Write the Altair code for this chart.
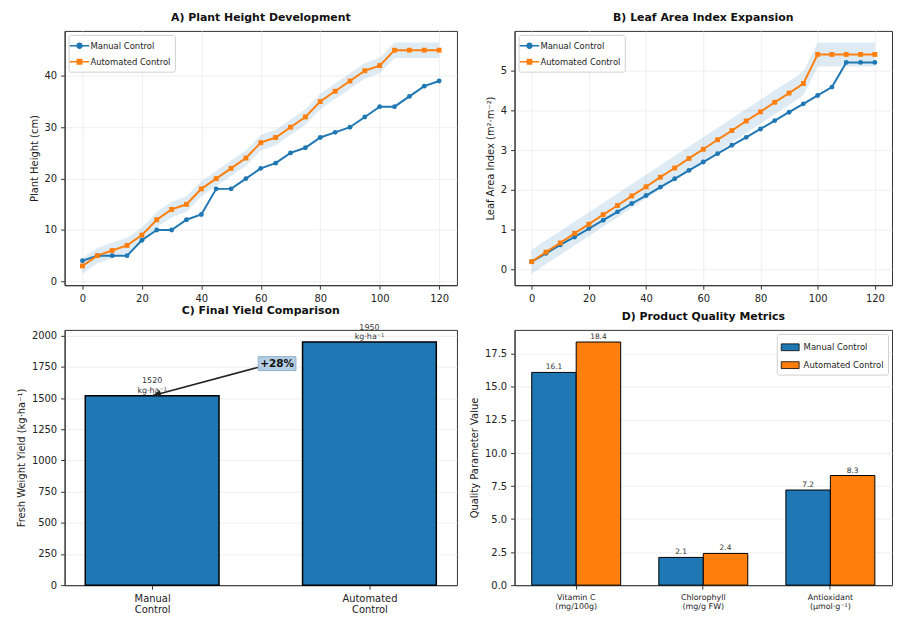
import altair as alt
import pandas as pd

# ---------------- data ----------------
SERIES = ["Manual Control", "Automated Control"]
COLORS = ["#1f77b4", "#ff7f0e"]

days = [0, 5, 10, 15, 20, 25, 30, 35, 40, 45, 50, 55, 60, 65, 70, 75, 80, 85, 90, 95, 100, 105, 110, 115, 120]
height_manual = [4, 5, 5, 5, 8, 10, 10, 12, 13, 18, 18, 20, 22, 23, 25, 26, 28, 29, 30, 32, 34, 34, 36, 38, 39]
height_auto = [3, 5, 6, 7, 9, 12, 14, 15, 18, 20, 22, 24, 27, 28, 30, 32, 35, 37, 39, 41, 42, 45, 45, 45, 45]
height_spread = 1.5

lai_manual = [0.20, 0.41, 0.62, 0.82, 1.03, 1.24, 1.45, 1.66, 1.86, 2.07, 2.28, 2.49, 2.70,
              2.91, 3.12, 3.32, 3.53, 3.74, 3.95, 4.16, 4.37, 4.58, 5.20, 5.20, 5.20]
lai_auto = [0.20, 0.44, 0.67, 0.91, 1.14, 1.38, 1.61, 1.85, 2.08, 2.32, 2.55, 2.79, 3.02,
            3.26, 3.49, 3.73, 3.96, 4.20, 4.43, 4.67, 5.40, 5.40, 5.40, 5.40, 5.40]
lai_spread = 0.3

yield_groups = ["Manual Control", "Automated Control"]
yield_values = [1520, 1950]
yield_unit = "kg·ha⁻¹"
yield_gain = "+28%"

quality_metrics = ["Vitamin C\n(mg/100g)", "Chlorophyll\n(mg/g FW)", "Antioxidant\n(μmol·g⁻¹)"]
quality_manual = [16.1, 2.1, 7.2]
quality_auto = [18.4, 2.4, 8.3]

# ---------------- layout / style ----------------
FONT = "DejaVu Sans"
W_LEFT, W_RIGHT, H = 395, 380, 256
color_scale = alt.Scale(domain=SERIES, range=COLORS)

line_shape_expr = (
    "datum.value == '" + SERIES[0] + "' ? "
    "'M-1.6,0H1.6M-0.4,0A0.4,0.4,0,1,0,0.4,0A0.4,0.4,0,1,0,-0.4,0Z' : "
    "'M-1.6,0H1.6M-0.35,-0.35H0.35V0.35H-0.35Z'"
)
line_color_expr = "datum.value == '" + SERIES[0] + "' ? '" + COLORS[0] + "' : '" + COLORS[1] + "'"


def line_legend():
    return alt.Legend(
        title=None, orient="top-left", offset=4, labelFontSize=8.5, labelFont=FONT,
        labelColor="#222", fillColor="white", strokeColor="#d0d0d0", padding=4,
        cornerRadius=2, rowPadding=3, symbolSize=150,
        symbolType={"expr": line_shape_expr},
        symbolFillColor={"expr": line_color_expr},
        symbolStrokeColor={"expr": line_color_expr},
        symbolStrokeWidth=1.6, symbolOpacity=1,
    )


def growth_panel(manual, auto, spread, ydomain, yvalues, ytitle, title, width):
    long = pd.DataFrame(
        [{"day": d, "series": SERIES[0], "value": m} for d, m in zip(days, manual)]
        + [{"day": d, "series": SERIES[1], "value": a} for d, a in zip(days, auto)]
    )
    band = pd.DataFrame({"day": days, "value": [a - spread for a in auto], "hi": [a + spread for a in auto]})
    x = alt.X("day:Q", scale=alt.Scale(domain=[-6, 126], nice=False, zero=False),
              axis=alt.Axis(values=list(range(0, 121, 20)), title=None))
    y = alt.Y("value:Q", scale=alt.Scale(domain=ydomain, nice=False, zero=False),
              axis=alt.Axis(values=yvalues, title=ytitle))
    band_layer = alt.Chart(band).mark_area(color=COLORS[0], opacity=0.15).encode(
        x=x, y=y, y2="hi:Q")
    lines = alt.Chart(long).mark_line(strokeWidth=2).encode(
        x=x, y=y, color=alt.Color("series:N", scale=color_scale, sort=SERIES, legend=line_legend()))
    pts = alt.Chart(long).mark_point(filled=True, size=24, opacity=1).encode(
        x=x, y=y, color=alt.Color("series:N", scale=color_scale, sort=SERIES),
        shape=alt.Shape("series:N", scale=alt.Scale(domain=SERIES, range=["circle", "square"]), legend=None))
    return alt.layer(band_layer, lines, pts).properties(width=width, height=H, title=title)


panel_a = growth_panel(height_manual, height_auto, height_spread, [-0.75, 48.75],
                       [0, 10, 20, 30, 40], "Plant Height (cm)", "A) Plant Height Development", W_LEFT)
panel_b = growth_panel(lai_manual, lai_auto, lai_spread, [-0.39, 5.99],
                       [0, 1, 2, 3, 4, 5], "Leaf Area Index (m²·m⁻²)", "B) Leaf Area Index Expansion", W_RIGHT)

# ---------------- panel C ----------------
c_lo, c_hi = -0.38, 1.38
bar_px = 0.6 * W_LEFT / (c_hi - c_lo)
df_c = pd.DataFrame({
    "pos": list(range(len(yield_groups))),
    "group": yield_groups,
    "value": yield_values,
    "label": [f"{v}\n{yield_unit}" for v in yield_values],
})
names_js = "[" + ",".join("'" + g + "'" for g in yield_groups) + "]"
xc = alt.X("pos:Q", scale=alt.Scale(domain=[c_lo, c_hi], nice=False, zero=False),
           axis=alt.Axis(values=list(range(len(yield_groups))), grid=False, title=None,
                         labelExpr="split(" + names_js + "[datum.value], ' ')"))
yc = alt.Y("value:Q", scale=alt.Scale(domain=[0, 2047.5], nice=False),
           axis=alt.Axis(values=list(range(0, 2001, 250)), format="d", labelOverlap=False,
                         title="Fresh Weight Yield (kg·ha⁻¹)"))
bars_c = alt.Chart(df_c).mark_bar(size=bar_px, color=COLORS[0], stroke="black", strokeWidth=1.5).encode(x=xc, y=yc)
text_c = alt.Chart(df_c).mark_text(baseline="bottom", fontSize=8, lineBreak="\n", lineHeight=9.5,
                                   color="#333", font=FONT, dy=-10.5).encode(x=xc, y=yc, text="label:N")

ANN_TEXT_X, ANN_TEXT_Y = 0.575, 1777
ANN_EDGE_X, ANN_EDGE_Y = 0.49, 1748
arrow_df = pd.DataFrame({"pos": [0], "value": [yield_values[0]], "pos2": [ANN_EDGE_X], "value2": [ANN_EDGE_Y]})
ann_df = pd.DataFrame({"pos": [ANN_TEXT_X], "value": [ANN_TEXT_Y], "t": [yield_gain]})
arrow_rule = alt.Chart(arrow_df).mark_rule(color="#222", strokeWidth=1.6).encode(
    x=xc, y=yc, x2="pos2:Q", y2="value2:Q")
arrow_head = alt.Chart(arrow_df).mark_point(
    shape="M0,0L-0.6,1.7L0.6,1.7Z", filled=True, color="#222", size=110, angle=255, opacity=1
).encode(x=xc, y=yc)
ann_box = alt.Chart(ann_df).mark_point(
    shape="M-1,-0.37H1V0.37H-1Z", size=1444, filled=True, fill="#b3cde3", stroke="#8fb0cc",
    strokeWidth=1, opacity=1).encode(x=xc, y=yc)
ann_text = alt.Chart(ann_df).mark_text(fontWeight="bold", fontSize=10.5, color="#111", font=FONT).encode(
    x=xc, y=yc, text="t:N")
panel_c = alt.layer(bars_c, text_c, arrow_rule, arrow_head, ann_box, ann_text).properties(
    width=W_LEFT, height=H + 1, title="C) Final Yield Comparison")

# ---------------- panel D ----------------
df_d = pd.DataFrame(
    [{"metric": m, "series": SERIES[0], "value": v, "label": f"{v:.1f}"} for m, v in zip(quality_metrics, quality_manual)]
    + [{"metric": m, "series": SERIES[1], "value": v, "label": f"{v:.1f}"} for m, v in zip(quality_metrics, quality_auto)]
)
xd = alt.X("metric:N", sort=quality_metrics, scale=alt.Scale(paddingInner=0.3, paddingOuter=0.135),
           axis=alt.Axis(labelExpr="split(datum.label, '\\n')", labelAngle=0, title=None,
                         labelFontSize=8, grid=False))
xo = alt.XOffset("series:N", sort=SERIES, scale=alt.Scale(domain=SERIES, paddingInner=0, paddingOuter=0))
yd = alt.Y("value:Q", scale=alt.Scale(domain=[0, 19.32], nice=False),
           axis=alt.Axis(values=[0, 2.5, 5, 7.5, 10, 12.5, 15, 17.5], format=".1f",
                         title="Quality Parameter Value"))
bars_d = alt.Chart(df_d).mark_bar(stroke="black", strokeWidth=1, opacity=1).encode(
    x=xd, xOffset=xo, y=yd,
    color=alt.Color("series:N", scale=color_scale, sort=SERIES, legend=alt.Legend(
        title=None, orient="top-right", offset=4, labelFontSize=8.5, labelFont=FONT, labelColor="#222",
        fillColor="white", strokeColor="#d0d0d0", padding=4, cornerRadius=2, rowPadding=3,
        symbolType="M-1,-0.38H1V0.38H-1Z", symbolSize=324, symbolStrokeColor="black",
        symbolStrokeWidth=0.8, symbolOpacity=1)))
text_d = alt.Chart(df_d).mark_text(baseline="bottom", fontSize=7.5, color="#333", font=FONT, dy=-1).encode(
    x=xd, xOffset=xo, y=yd, text="label:N")
panel_d = alt.layer(bars_d, text_d).properties(width=W_RIGHT, height=H + 1, title="D) Product Quality Metrics")

chart = alt.concat(panel_a, panel_b, panel_c, panel_d, columns=2, bounds="flush",
                   spacing={"row": 45, "column": 58}).properties(
    padding={"left": 8, "top": 1, "right": 0, "bottom": 0}, background="white"
).configure_axis(
    labelFont=FONT, titleFont=FONT, labelFontSize=10, titleFontSize=10, labelColor="#222",
    titleColor="#222", titleFontWeight="normal", tickColor="#333", domainColor="#333",
    gridColor="#ebebeb", gridWidth=0.8, tickSize=4, labelPadding=4, titlePadding=5,
).configure_view(stroke="#333", strokeWidth=1).configure_title(
    font=FONT, fontSize=11, fontWeight="bold", color="#111", anchor="middle", frame="group", offset=8
)

chart.save("out.html", embed_options={"renderer": "svg", "actions": False})
